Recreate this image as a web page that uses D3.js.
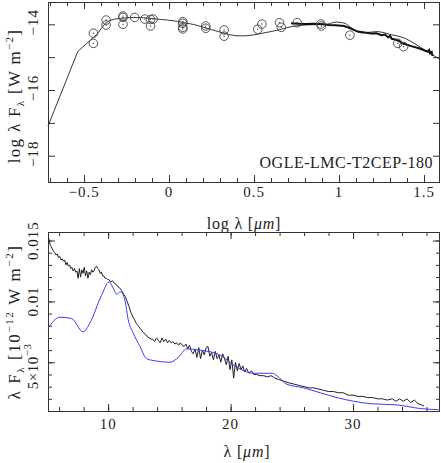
<!DOCTYPE html>
<html>
<head>
<meta charset="utf-8">
<script src="https://cdn.jsdelivr.net/npm/d3@7"></script>
<style>
  body { margin: 0; background: #fff; }
  svg text { font-family: "Liberation Serif", "DejaVu Serif", serif; fill: #222; }
</style>
</head>
<body>
<div id="chart"></div>
<script>
// ---- top panel: SED in log space ----
const photLogLam = [-0.445, -0.445, -0.370, -0.370, -0.271, -0.271, -0.271, -0.202, -0.143, -0.109, -0.094, -0.109,
  0.081, 0.081, 0.081, 0.081, 0.216, 0.216, 0.324, 0.324, 0.522, 0.546, 0.650, 0.660, 0.754, 0.893, 0.896, 1.064, 1.346, 1.380];
const photLogF = [-14.27, -14.58, -13.87, -14.02, -13.75, -13.79, -14.00, -13.79, -13.84, -13.85, -13.84, -14.05,
  -13.92, -13.97, -14.09, -14.14, -14.05, -14.12, -14.17, -14.36, -14.15, -13.99, -13.95, -14.09, -13.95, -13.99, -14.05, -14.33, -14.58, -14.68];

const modelLogLam = [-0.712, -0.537, -0.51, -0.484, -0.445, -0.42, -0.405, -0.39, -0.376, -0.36, -0.346, -0.32, -0.287, -0.25, -0.21,
  -0.15, -0.1, -0.05, -0.008, 0.05, 0.1, 0.15, 0.19, 0.25, 0.31, 0.36, 0.40, 0.45, 0.5, 0.55, 0.6, 0.66, 0.718, 0.76, 0.80, 0.85,
  0.896, 0.93, 0.95, 0.97, 0.99, 1.02, 1.04, 1.07, 1.10, 1.13, 1.16, 1.20, 1.23, 1.27, 1.31, 1.35, 1.39, 1.43, 1.47, 1.51, 1.55, 1.594];
const modelLogF = [-17.1, -14.83, -14.70, -14.58, -14.40, -14.28, -14.17, -14.07, -13.98, -13.92, -13.88, -13.84, -13.82, -13.80, -13.79,
  -13.80, -13.82, -13.85, -13.87, -13.91, -13.96, -14.01, -14.07, -14.16, -14.25, -14.32, -14.35, -14.35, -14.32, -14.27, -14.22, -14.15, -14.07,
  -14.04, -14.02, -14.01, -14.01, -14.00, -13.97, -13.94, -13.93, -13.95, -13.98, -14.10, -14.20, -14.26, -14.25, -14.23, -14.22, -14.26,
  -14.32, -14.36, -14.43, -14.54, -14.67, -14.80, -14.93, -15.06];

const irsLogLam = [0.718, 0.76, 0.80, 0.85, 0.896, 0.94, 0.98, 1.03, 1.07, 1.11, 1.15, 1.19, 1.22, 1.25, 1.27, 1.29, 1.30, 1.31,
  1.33, 1.35, 1.37, 1.40, 1.43, 1.47, 1.50, 1.52, 1.53, 1.535, 1.545, 1.55];
const irsLogF = [-13.97, -13.98, -13.99, -13.98, -13.99, -14.02, -14.03, -14.05, -14.13, -14.22, -14.25, -14.28, -14.27, -14.33, -14.31,
  -14.40, -14.35, -14.44, -14.46, -14.50, -14.57, -14.62, -14.67, -14.73, -14.79, -14.83, -14.78, -14.88, -14.84, -14.96];

const topXTicks = [-0.5, 0, 0.5, 1, 1.5];
const topYTicks = [-18, -16, -14];
const targetName = "OGLE-LMC-T2CEP-180";

// ---- bottom panel: linear spectrum ----
const specLam = [5.15, 5.25, 5.35, 5.45, 5.55, 5.65, 5.75, 5.85, 5.95, 6.05, 6.15, 6.25, 6.35, 6.45, 6.55, 6.65, 6.75, 6.85, 6.95,
  7.05, 7.15, 7.25, 7.35, 7.45, 7.55, 7.65, 7.75, 7.85, 7.95, 8.05, 8.15, 8.25, 8.35, 8.45, 8.55, 8.65, 8.75, 8.85, 8.95,
  9.05, 9.15, 9.25, 9.35, 9.45, 9.55, 9.65, 9.75, 9.85, 9.95, 10.05, 10.2, 10.35, 10.5, 10.65, 10.8, 10.95, 11.1, 11.25,
  11.4, 11.55, 11.7, 11.85, 12.0, 12.15, 12.3, 12.45, 12.6, 12.75, 12.9, 13.05, 13.2, 13.35, 13.5, 13.65, 13.8, 13.95,
  14.1, 14.25, 14.4, 14.55, 14.7, 14.85, 15.0, 15.15, 15.3, 15.45, 15.6, 15.75, 15.9, 16.05, 16.2, 16.35, 16.5, 16.65,
  16.8, 16.95, 17.1, 17.25, 17.4, 17.55, 17.7, 17.85, 18.0, 18.15, 18.3, 18.45, 18.6, 18.75, 18.9, 19.05, 19.2, 19.35,
  19.5, 19.65, 19.8, 19.95, 20.1, 20.25, 20.4, 20.55, 20.7, 20.85, 21.0, 21.15, 21.3, 21.5, 21.7, 21.9, 22.1, 22.4,
  22.7, 23.0, 23.3, 23.6, 23.9, 24.2, 24.5, 24.8, 25.2, 25.6, 26.0, 26.4, 26.8, 27.2, 27.6, 28.0, 28.4, 28.8, 29.2,
  29.6, 30.0, 30.4, 30.8, 31.2, 31.6, 32.0, 32.4, 32.8, 33.2, 33.5, 33.8, 34.1, 34.4, 34.7, 35.0, 35.3, 35.6, 35.8];
const specFlux = [0.0152, 0.0147, 0.0145, 0.0143, 0.0141, 0.0140, 0.0138, 0.0139, 0.0136, 0.0137, 0.0134, 0.0135, 0.0133, 0.0134,
  0.0130, 0.0132, 0.0129, 0.0130, 0.0127, 0.0128, 0.0125, 0.0127, 0.0124, 0.0125, 0.0119, 0.0127, 0.0120, 0.0126, 0.0123,
  0.0128, 0.0121, 0.0125, 0.0119, 0.0124, 0.0122, 0.0126, 0.0124, 0.0125, 0.0128, 0.0129, 0.0127, 0.0126, 0.0123, 0.0124,
  0.0121, 0.0121, 0.0119, 0.0119, 0.0118, 0.0118, 0.0116, 0.0117, 0.0115, 0.0114, 0.0112, 0.0111, 0.0109, 0.0106, 0.0104,
  0.0100, 0.0096, 0.0091, 0.0088, 0.0085, 0.0082, 0.0080, 0.0078, 0.0076, 0.0074, 0.0073, 0.0071, 0.0070, 0.0069, 0.0069,
  0.0067, 0.0070, 0.0068, 0.0066, 0.0070, 0.0067, 0.0069, 0.0066, 0.0068, 0.0066, 0.0067, 0.0065, 0.0066, 0.0064, 0.0066,
  0.0064, 0.0063, 0.0065, 0.0061, 0.0064, 0.0059, 0.0057, 0.0061, 0.0054, 0.0062, 0.0053, 0.0060, 0.0056, 0.0062, 0.0063,
  0.0055, 0.0058, 0.0052, 0.0059, 0.0053, 0.0056, 0.0050, 0.0057, 0.0053, 0.0048, 0.0055, 0.0044, 0.0052, 0.0037, 0.0050,
  0.0043, 0.0049, 0.0044, 0.0047, 0.0042, 0.0045, 0.0041, 0.0043, 0.0040, 0.0040, 0.0039, 0.0039, 0.0038, 0.0039, 0.0037,
  0.0036, 0.0035, 0.0034, 0.0033, 0.0032, 0.0031, 0.0030, 0.0029, 0.0029, 0.0028, 0.0027, 0.0026, 0.0026, 0.0025, 0.0025,
  0.0023, 0.0023, 0.0022, 0.0022, 0.0021, 0.0021, 0.0020, 0.0020, 0.0019, 0.0020, 0.0018, 0.0020, 0.0018, 0.0020, 0.0017,
  0.0019, 0.0016, 0.0015, 0.0014];

const fitLam = [5.1, 6.05, 7.0, 7.96, 8.5, 9.46, 10.08, 10.41, 10.69, 11.01, 11.37, 11.64, 12.05, 12.6, 13.14, 13.96, 15.05,
  15.73, 16.41, 17.5, 19.14, 20.5, 21.87, 22.96, 23.4, 23.78, 24.59, 25.96, 27.32, 28.69, 30.05, 31.41, 33.6, 35.5, 37.1];
const fitFlux = [0.0078, 0.0087, 0.0086, 0.0075, 0.0082, 0.0105, 0.0116, 0.0111, 0.0106, 0.0108, 0.0101, 0.0085, 0.0074,
  0.0063, 0.0053, 0.0051, 0.0050, 0.0054, 0.0061, 0.0060, 0.0056, 0.0046, 0.0041, 0.0041, 0.0041, 0.0039, 0.0032, 0.0029,
  0.0025, 0.0021, 0.0018, 0.0016, 0.0015, 0.0012, 0.0011];

const botXTicks = [10, 20, 30];

const W = 441, H = 463;
const svg = d3.select("#chart").append("svg").attr("width", W).attr("height", H);

// scales
const xTop = d3.scaleLinear().domain([-0.712, 1.594]).range([48, 440]);
const yTop = d3.scaleLinear().domain([-18.8, -13.32]).range([182, 2]);
const xBot = d3.scaleLinear().domain([5.09, 37.1]).range([48, 440]);
const yBot = d3.scaleLinear().domain([0.001, 0.0157]).range([411, 232]);

// draws inward ticks on all four sides of a panel
function frame(xs, ys, xMajor, xMinor, yMajor, yMinor) {
  const [x0, x1] = xs.range(), [y0, y1] = ys.range();
  const g = svg.append("g");
  const specs = [
    [d3.axisBottom(xs), `translate(0,${y0})`, xMajor, xMinor],
    [d3.axisTop(xs), `translate(0,${y1})`, xMajor, xMinor],
    [d3.axisLeft(ys), `translate(${x0},0)`, yMajor, yMinor],
    [d3.axisRight(ys), `translate(${x1},0)`, yMajor, yMinor]
  ];
  specs.forEach(([ax, tr, maj, min]) => {
    g.append("g").attr("transform", tr)
      .call(ax.tickValues(min).tickSize(-4).tickFormat(""));
    g.append("g").attr("transform", tr)
      .call(ax.tickValues(maj).tickSize(-7).tickFormat(""));
  });
  g.selectAll(".domain").remove();
  g.selectAll("line").attr("stroke", "#333").attr("stroke-width", 1);
  g.append("rect").attr("x", x0 + 0.5).attr("y", y1 + 0.5)
    .attr("width", x1 - x0 - 1).attr("height", y0 - y1)
    .attr("fill", "none").attr("stroke", "#333").attr("stroke-width", 1);
}

// ---------------- top panel ----------------
frame(xTop, yTop, topXTicks, d3.range(-7, 16).map(d => d / 10), [-18, -17, -16, -15, -14], []);

svg.append("g").selectAll("text").data(topXTicks).join("text")
  .attr("x", d => xTop(d)).attr("y", 197)
  .attr("text-anchor", "middle").style("font-size", "15px").style("letter-spacing", "1px")
  .text(d => d < 0 ? "\u2212" + Math.abs(d) : d);

svg.append("g").selectAll("text").data(topYTicks).join("text")
  .attr("transform", d => `translate(38,${yTop(d) - 2}) rotate(-90)`)
  .attr("text-anchor", "middle").style("font-size", "15px").style("letter-spacing", "1px")
  .text(d => "\u2212" + Math.abs(d));

svg.append("path").datum(d3.zip(modelLogLam, modelLogF))
  .attr("d", d3.line().x(d => xTop(d[0])).y(d => yTop(d[1]))).attr("fill", "none")
  .attr("stroke", "#222").attr("stroke-width", 0.9);
svg.append("path").datum(d3.zip(irsLogLam, irsLogF))
  .attr("d", d3.line().x(d => xTop(d[0])).y(d => yTop(d[1]))).attr("fill", "none")
  .attr("stroke", "#111").attr("stroke-width", 2);

const phot = svg.append("g").selectAll("g").data(d3.zip(photLogLam, photLogF)).join("g")
  .attr("transform", d => `translate(${xTop(d[0])},${yTop(d[1])})`);
phot.append("circle").attr("r", 4.3).attr("fill", "none").attr("stroke", "#444").attr("stroke-width", 0.9);
phot.append("circle").attr("r", 0.7).attr("fill", "#444");

svg.append("text").attr("x", 433).attr("y", 168).attr("text-anchor", "end")
  .style("font-size", "16px").style("letter-spacing", "0.5px").text(targetName);

// top axis labels
const ylabTop = svg.append("text").attr("transform", "translate(20,96) rotate(-90)")
  .attr("text-anchor", "middle").style("font-size", "17px").style("letter-spacing", "1.3px");
ylabTop.append("tspan").text("log \u03bb F");
ylabTop.append("tspan").attr("dy", 4).style("font-size", "11px").text("\u03bb");
ylabTop.append("tspan").attr("dy", -4).text(" [W m");
ylabTop.append("tspan").attr("dy", -7).style("font-size", "11px").text("\u22122");
ylabTop.append("tspan").attr("dy", 7).text("]");

const xlabTop = svg.append("text").attr("x", 244).attr("y", 229)
  .attr("text-anchor", "middle").style("font-size", "16px").style("letter-spacing", "0.8px");
xlabTop.append("tspan").text("log \u03bb [");
xlabTop.append("tspan").style("font-style", "italic").text("\u03bcm");
xlabTop.append("tspan").text("]");

// ---------------- bottom panel ----------------
frame(xBot, yBot, botXTicks, d3.range(6, 37, 2), [0.005, 0.01, 0.015], d3.range(1, 16).map(d => d / 1000));

svg.append("g").selectAll("text").data(botXTicks).join("text")
  .attr("x", d => xBot(d)).attr("y", 429)
  .attr("text-anchor", "middle").style("font-size", "15px").style("letter-spacing", "1px").text(d => d);

svg.append("text").attr("transform", `translate(38,${yBot(0.015)}) rotate(-90)`)
  .attr("text-anchor", "middle").style("font-size", "15px").style("letter-spacing", "1px").text("0.015");
svg.append("text").attr("transform", `translate(38,${yBot(0.01)}) rotate(-90)`)
  .attr("text-anchor", "middle").style("font-size", "15px").style("letter-spacing", "1px").text("0.01");
const t5 = svg.append("text").attr("transform", `translate(38,${yBot(0.005) + 4}) rotate(-90)`)
  .attr("text-anchor", "middle").style("font-size", "15px").style("letter-spacing", "0.5px");
t5.append("tspan").text("5\u00d710");
t5.append("tspan").attr("dy", -7).style("font-size", "11px").text("\u22123");

svg.append("path").datum(d3.zip(specLam, specFlux))
  .attr("d", d3.line().x(d => xBot(d[0])).y(d => yBot(d[1])))
  .attr("fill", "none").attr("stroke", "#222").attr("stroke-width", 1);
svg.append("path").datum(d3.zip(fitLam, fitFlux))
  .attr("d", d3.line().x(d => xBot(d[0])).y(d => yBot(d[1])).curve(d3.curveMonotoneX))
  .attr("fill", "none").attr("stroke", "#3a3aff").attr("stroke-width", 1);

const ylabBot = svg.append("text").attr("transform", "translate(20,322) rotate(-90)")
  .attr("text-anchor", "middle").style("font-size", "17px").style("letter-spacing", "1.6px");
ylabBot.append("tspan").text("\u03bb F");
ylabBot.append("tspan").attr("dy", 4).style("font-size", "11px").text("\u03bb");
ylabBot.append("tspan").attr("dy", -4).text(" [10");
ylabBot.append("tspan").attr("dy", -7).style("font-size", "11px").text("\u221212");
ylabBot.append("tspan").attr("dy", 7).text(" W m");
ylabBot.append("tspan").attr("dy", -7).style("font-size", "11px").text("\u22122");
ylabBot.append("tspan").attr("dy", 7).text("]");

const xlabBot = svg.append("text").attr("x", 247).attr("y", 457)
  .attr("text-anchor", "middle").style("font-size", "16px").style("letter-spacing", "0.8px");
xlabBot.append("tspan").text("\u03bb [");
xlabBot.append("tspan").style("font-style", "italic").text("\u03bcm");
xlabBot.append("tspan").text("]");
</script>
</body>
</html>
